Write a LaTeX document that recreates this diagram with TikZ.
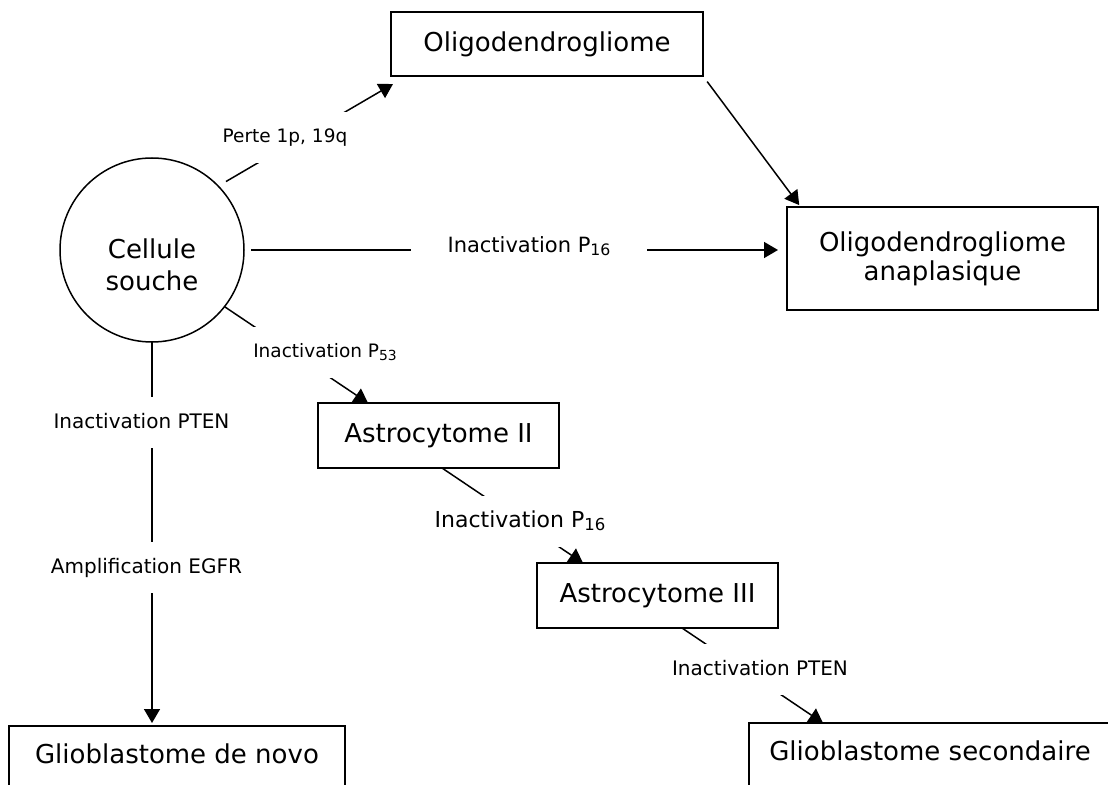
\documentclass[tikz,border=0pt]{standalone}
\usepackage{fontspec}
\setmainfont{DejaVu Sans}
\usetikzlibrary{arrows.meta,positioning}
\newcommand{\gsub}[1]{\raisebox{-0.25ex}{\scalebox{0.75}{#1}}}

\begin{document}
\begin{tikzpicture}[x=0.5pt, y=-0.5pt,
    box/.style={draw, line width=1pt, inner sep=0pt, outer sep=0pt, align=center, font=\fontsize{13}{14.5}\selectfont},
    conn/.style={line width=0.75pt, -{Triangle[length=7pt,width=8pt]}},
    lbl/.style={fill=white, inner xsep=2pt, inner ysep=8pt, text height=7.5pt, text depth=2pt, font=\fontsize{10}{12}\selectfont}]

    % Picture frame (bottom boxes run off the page)
    \clip (0,0) rectangle (1108,785);

    % Stem cell
    \node[draw, circle, line width=0.75pt, minimum size=92pt, inner sep=0pt, outer sep=0pt] (cs) at (152,250) {};
    \node[align=center, font=\fontsize{13}{16}\selectfont] (cstext) at (152,265) {Cellule\\souche};

    % Tumour boxes
    \node[box, minimum width=156pt, minimum height=32pt] (oligo) at (547,44) {Oligodendrogliome};
    \node[box, minimum width=155.5pt, minimum height=51.5pt] (anap) at (942.5,259) {Oligodendrogliome\\anaplasique};
    \node[box, minimum width=120.5pt, minimum height=32.5pt] (astroII) at (438.5,435.5) {Astrocytome II};
    \node[box, minimum width=120.5pt, minimum height=32.5pt] (astroIII) at (657.5,595.5) {Astrocytome III};
    \node[box, anchor=north, minimum width=168pt, inner ysep=9pt, text height=9.5pt, text depth=30pt] (novo) at (177,726) {Glioblastome de novo};
    \node[box, anchor=north west, minimum width=181pt, inner ysep=9pt, text height=9.5pt, text depth=30pt] (second) at (749,723) {Glioblastome secondaire};

    % Connectors
    \draw[conn, shorten <=4.5pt] (cs.44) -- ([shift={(2,8)}]oligo.south west);
    \draw[conn, shorten <=3.5pt, shorten >=4.5pt] (cs.east) -- (cs.east -| anap.west);
    \draw[conn, shorten <=3.5pt, shorten >=1.5pt] (oligo.south east) -- ([shift={(14,0)}]anap.north west);
    \draw[conn] (cs.-38.5) -- ([shift={(50,0)}]astroII.north west);
    \draw[conn] ([shift={(3.5,0)}]astroII.south) -- ([shift={(46,0)}]astroIII.north west);
    \draw[conn] ([shift={(24.5,0)}]astroIII.south) -- ([shift={(74,0)}]second.north west);
    \draw[conn, shorten >=1.5pt] (cs.south) -- (cs.south |- novo.north);

    % Labels on the connectors
    \node[lbl, font=\fontsize{9.25}{11}\selectfont] (perte) at (285,137.5) {Perte 1p, 19q};
    \node[lbl, inner xsep=18.5pt, font=\fontsize{10.5}{12}\selectfont] (inactA) at (529,247.5) {Inactivation P\gsub{16}};
    \node[lbl, font=\fontsize{9.25}{11}\selectfont] (inactB) at (325,352.5) {Inactivation P\gsub{53}};
    \node[lbl, font=\fontsize{11}{13}\selectfont] (inactC) at (520,522) {Inactivation P\gsub{16}};
    \node[lbl] (inactD) at (760,669.5) {Inactivation PTEN};
    \node[lbl] (inactE) at (141.5,423) {Inactivation PTEN};
    \node[lbl] (ampli) at (146.5,568) {Amplification EGFR};
\end{tikzpicture}
\end{document}
